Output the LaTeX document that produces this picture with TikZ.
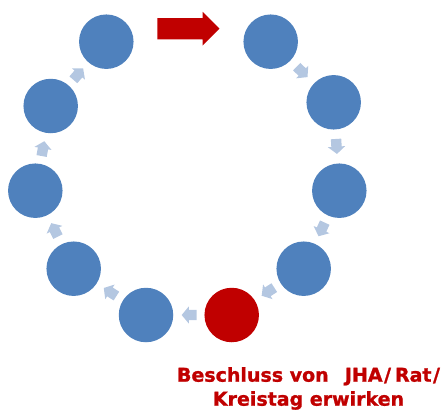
\documentclass[tikz,border=0pt]{standalone}
\usepackage{fontspec}
\newfontfamily\labfont{DejaVu Sans}[BoldFeatures={FakeBold=1.2}]
\usetikzlibrary{shapes.arrows}
\definecolor{cblue}{HTML}{4F81BD}
\definecolor{cred}{HTML}{C00000}
\definecolor{clight}{RGB}{180,199,225}
\tikzset{
  stage/.style={circle, fill=cblue, minimum size=54.5pt, inner sep=0pt, draw=none},
  redstage/.style={stage, fill=cred},
  flowarrow/.style={single arrow, fill=clight, draw=none, inner sep=5pt,
    minimum height=15pt, single arrow head extend=3.5pt, single arrow tip angle=100,
    sloped, allow upside down, anchor=tip, pos=0.587},
  bigarrow/.style={single arrow, fill=cred, draw=none, inner sep=10.5pt,
    minimum height=62pt, single arrow head extend=6.2pt, single arrow tip angle=90,
    sloped, allow upside down, anchor=tip, pos=0.69},
  caption/.style={text=cred, font=\labfont\bfseries\fontsize{19}{24}\selectfont, align=center, inner sep=0pt}
}
\begin{document}
\begin{tikzpicture}[x=1pt,y=-1pt]
\useasboundingbox (0,0) rectangle (447,410);
\node[stage] (s1) at (106.3,41.7) {};
\node[stage] (s2) at (270.7,41.7) {};
\node[stage] (s3) at (333.7,102.3) {};
\node[stage] (s4) at (339.3,190.7) {};
\node[stage] (s5) at (303.7,268.7) {};
\node[redstage] (s6) at (231.7,315) {};
\node[stage] (s7) at (146,315) {};
\node[stage] (s8) at (73.7,268.7) {};
\node[stage] (s9) at (35.3,190.7) {};
\node[stage] (s10) at (50.7,106) {};
\path (s1.center) -- node[bigarrow, yshift=13pt] (big) {} (s2.center);
\path (s2.center) -- node[flowarrow] (a23) {} (s3.center);
\path (s3.center) -- node[flowarrow] (a34) {} (s4.center);
\path (s4.center) -- node[flowarrow] (a45) {} (s5.center);
\path (s5.center) -- node[flowarrow] (a56) {} (s6.center);
\path (s6.center) -- node[flowarrow] (a67) {} (s7.center);
\path (s7.center) -- node[flowarrow] (a78) {} (s8.center);
\path (s8.center) -- node[flowarrow] (a89) {} (s9.center);
\path (s9.center) -- node[flowarrow] (a910) {} (s10.center);
\path (s10.center) -- node[flowarrow] (a101) {} (s1.center);
\node[caption] (cap) at (308.5,388.5) {Beschluss von \ \hspace{3pt}JHA\hspace{1.5pt}/\hspace{4pt}Rat\hspace{1.5pt}/\\Kreistag erwirken};
\end{tikzpicture}
\end{document}
